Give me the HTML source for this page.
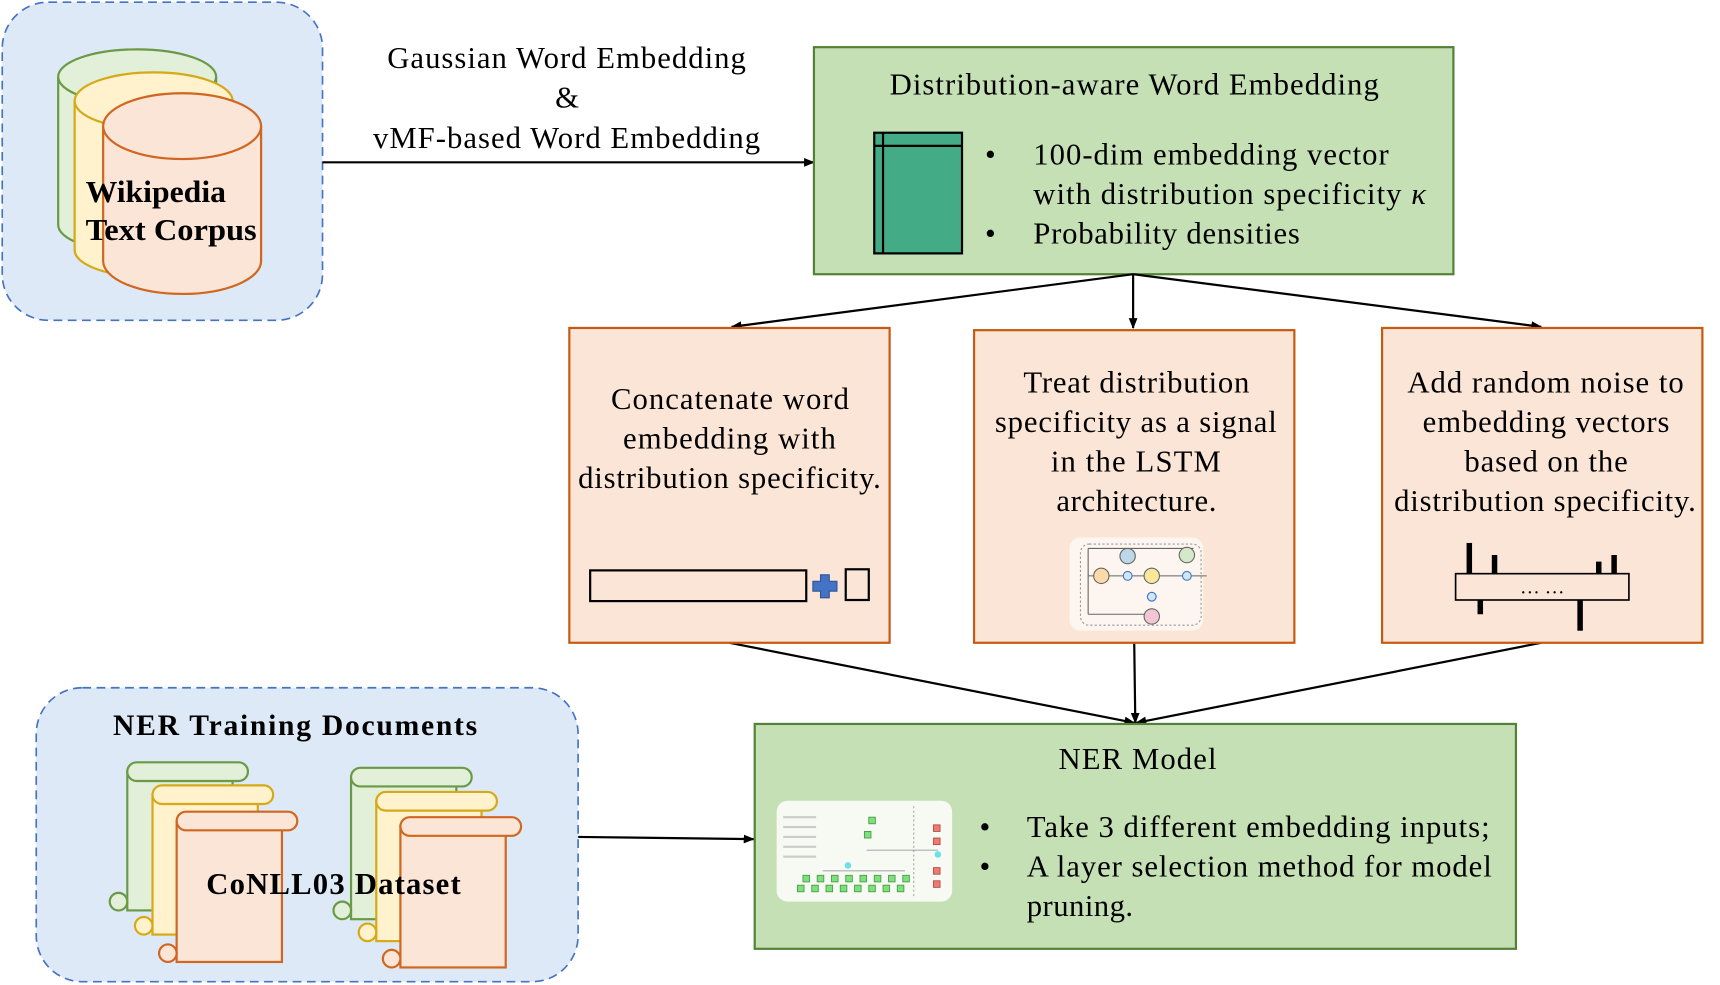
<!DOCTYPE html>
<html><head><meta charset="utf-8"><style>
html,body{margin:0;padding:0;background:#fff;}
svg{display:block;}
text{font-family:"Liberation Serif",serif;fill:#000;}
</style></head><body>
<svg width="1720" height="985" viewBox="0 0 1568 898" xmlns="http://www.w3.org/2000/svg">
<defs>
<marker id="ah" markerWidth="10" markerHeight="10" refX="9" refY="5" orient="auto" markerUnits="userSpaceOnUse">
<path d="M0,1 L10,5 L0,9 z" fill="#000"/></marker>
</defs>

<rect x="2" y="2" width="292" height="290" rx="42" fill="#dde9f6" stroke="#4472c4" stroke-width="1.5" stroke-dasharray="8,5"/>
<g stroke-width="2">
<path d="M53,70 V205 A72,25 0 0 0 197,205 V70" fill="#e2efd9" stroke="#6a9a45"/>
<ellipse cx="125" cy="70" rx="72" ry="25" fill="#e2efd9" stroke="#6a9a45"/>
<path d="M68,92 V228 A72,25 0 0 0 212,228 V92" fill="#fff2cc" stroke="#d6a919"/>
<ellipse cx="140" cy="92" rx="72" ry="26" fill="#fff2cc" stroke="#d6a919"/>
<path d="M94,115 V238 A72,30 0 0 0 238,238 V115" fill="#fbe5d6" stroke="#d0661f"/>
<ellipse cx="166" cy="115" rx="72" ry="30" fill="#fbe5d6" stroke="#d0661f"/>
</g>
<g font-size="28" font-weight="bold" lengthAdjust="spacingAndGlyphs">
<text x="78" y="184" textLength="128" lengthAdjust="spacingAndGlyphs">Wikipedia</text>
<text x="78" y="219" textLength="156" lengthAdjust="spacingAndGlyphs">Text Corpus</text>
</g>

<line x1="294" y1="148" x2="742" y2="148" stroke="#000" stroke-width="2" marker-end="url(#ah)"/>
<g font-size="28">
<text x="353" y="62" textLength="327" lengthAdjust="spacing">Gaussian Word Embedding</text>
<text x="517" y="98" text-anchor="middle">&amp;</text>
<text x="340" y="135" textLength="353" lengthAdjust="spacing">vMF-based Word Embedding</text>
</g>

<rect x="742" y="43" width="583" height="207" fill="#c5e0b4" stroke="#538135" stroke-width="2"/>
<text x="811" y="86" font-size="28" textLength="446" lengthAdjust="spacing">Distribution-aware Word Embedding</text>
<rect x="797" y="121" width="80" height="110" fill="#43ab85" stroke="#000" stroke-width="2"/>
<line x1="797" y1="133" x2="877" y2="133" stroke="#000" stroke-width="2"/>
<line x1="805" y1="121" x2="805" y2="231" stroke="#000" stroke-width="2"/>
<g font-size="28">
<text x="898" y="150">•</text><text x="942" y="150" textLength="324" lengthAdjust="spacing">100-dim embedding vector</text>
<text x="942" y="186" textLength="358" lengthAdjust="spacing">with distribution specificity <tspan font-style="italic">κ</tspan></text>
<text x="898" y="222">•</text><text x="942" y="222" textLength="243" lengthAdjust="spacing">Probability densities</text>
</g>

<g stroke="#000" stroke-width="2" marker-end="url(#ah)">
<line x1="1033" y1="250" x2="667" y2="298"/>
<line x1="1033" y1="250" x2="1033" y2="299"/>
<line x1="1033" y1="250" x2="1405" y2="298"/>
<line x1="665" y1="586" x2="1034" y2="659"/>
<line x1="1034" y1="586" x2="1035" y2="659"/>
<line x1="1405" y1="586" x2="1036" y2="659"/>
<line x1="527" y1="763" x2="687" y2="765"/>
</g>

<g fill="#fbe5d6" stroke="#c55a11" stroke-width="2">
<rect x="519" y="299" width="292" height="287"/>
<rect x="888" y="301" width="292" height="285"/>
<rect x="1260" y="299" width="292" height="287"/>
</g>
<g font-size="28">
<text x="557" y="373" textLength="217" lengthAdjust="spacing">Concatenate word</text>
<text x="568" y="409" textLength="194" lengthAdjust="spacing">embedding with</text>
<text x="527" y="445" textLength="276" lengthAdjust="spacing">distribution specificity.</text>
<text x="933" y="358" textLength="206" lengthAdjust="spacing">Treat distribution</text>
<text x="907" y="394" textLength="257" lengthAdjust="spacing">specificity as a signal</text>
<text x="958" y="430" textLength="155" lengthAdjust="spacing">in the LSTM</text>
<text x="963" y="466" textLength="146" lengthAdjust="spacing">architecture.</text>
<text x="1283" y="358" textLength="252" lengthAdjust="spacing">Add random noise to</text>
<text x="1297" y="394" textLength="225" lengthAdjust="spacing">embedding vectors</text>
<text x="1335" y="430" textLength="149" lengthAdjust="spacing">based on the</text>
<text x="1271" y="466" textLength="275" lengthAdjust="spacing">distribution specificity.</text>
</g>
<rect x="538" y="520" width="197" height="28" fill="#fbe5d6" stroke="#000" stroke-width="2"/>
<path d="M748,524 h8 v6 h7 v9 h-7 v6 h-8 v-6 h-7 v-9 h7 z" fill="#4472c4" stroke="#2f5597"/>
<rect x="771" y="519" width="21" height="28" fill="#fbe5d6" stroke="#000" stroke-width="2"/>
<g>
<rect x="975" y="490" width="122" height="85" rx="10" fill="#fdf5ef"/>
<rect x="985" y="496" width="110" height="74" rx="8" fill="none" stroke="#999" stroke-dasharray="2,2"/>
<line x1="992" y1="525" x2="1100" y2="525" stroke="#666"/>
<line x1="992" y1="500" x2="1088" y2="500" stroke="#666"/>
<line x1="992" y1="500" x2="992" y2="560" stroke="#666"/>
<line x1="992" y1="560" x2="1045" y2="560" stroke="#666"/>
<circle cx="1028" cy="507" r="7" fill="#bcd8e8" stroke="#666"/>
<circle cx="1082" cy="506" r="7" fill="#d4e9c8" stroke="#666"/>
<circle cx="1004" cy="525" r="7" fill="#fbd9a8" stroke="#666"/>
<circle cx="1050" cy="525" r="7" fill="#fbe79a" stroke="#666"/>
<circle cx="1050" cy="562" r="7" fill="#f3c6d6" stroke="#666"/>
<circle cx="1028" cy="525" r="4" fill="#cfe6f5" stroke="#4472c4"/>
<circle cx="1082" cy="525" r="4" fill="#cfe6f5" stroke="#4472c4"/>
<circle cx="1050" cy="544" r="4" fill="#cfe6f5" stroke="#4472c4"/>
</g>
<rect x="1327" y="523" width="158" height="24" fill="#fbe5d6" stroke="#000" stroke-width="1.5"/>
<text x="1406" y="541" font-size="18" text-anchor="middle">… …</text>
<g fill="#000">
<rect x="1337" y="495" width="5" height="28"/>
<rect x="1360" y="506" width="5" height="17"/>
<rect x="1455" y="512" width="5" height="11"/>
<rect x="1469" y="506" width="5" height="17"/>
<rect x="1347" y="547" width="5" height="13"/>
<rect x="1438" y="547" width="5" height="28"/>
</g>

<rect x="688" y="660" width="694" height="205" fill="#c5e0b4" stroke="#538135" stroke-width="2"/>
<text x="965" y="701" font-size="28" textLength="144" lengthAdjust="spacing">NER Model</text>
<g>
<rect x="708" y="730" width="160" height="92" rx="10" fill="#f6faf3"/>
<g fill="#7ee07a" stroke="#4a9a4a" stroke-width="0.8">
<rect x="732" y="798" width="6" height="6"/><rect x="745" y="798" width="6" height="6"/><rect x="758" y="798" width="6" height="6"/><rect x="771" y="798" width="6" height="6"/><rect x="784" y="798" width="6" height="6"/><rect x="797" y="798" width="6" height="6"/><rect x="810" y="798" width="6" height="6"/><rect x="823" y="798" width="6" height="6"/>
<rect x="727" y="807" width="6" height="6"/><rect x="740" y="807" width="6" height="6"/><rect x="753" y="807" width="6" height="6"/><rect x="766" y="807" width="6" height="6"/><rect x="779" y="807" width="6" height="6"/><rect x="792" y="807" width="6" height="6"/><rect x="805" y="807" width="6" height="6"/><rect x="818" y="807" width="6" height="6"/>
<rect x="792" y="745" width="6" height="6"/><rect x="788" y="758" width="6" height="6"/>
</g>
<g fill="#ee7b70" stroke="#b44" stroke-width="0.8">
<rect x="851" y="752" width="6" height="6"/><rect x="851" y="764" width="6" height="6"/><rect x="851" y="791" width="6" height="6"/><rect x="851" y="803" width="6" height="6"/>
</g>
<circle cx="855" cy="779" r="3" fill="#6de0e8"/>
<circle cx="773" cy="789" r="3" fill="#6de0e8"/>
<line x1="833" y1="735" x2="833" y2="818" stroke="#aaa" stroke-dasharray="2,2"/>
<line x1="750" y1="794" x2="825" y2="794" stroke="#888" stroke-width="0.7"/>
<line x1="790" y1="775" x2="855" y2="775" stroke="#888" stroke-width="0.7"/>
<g fill="#ccc"><rect x="714" y="744" width="30" height="2"/><rect x="714" y="753" width="30" height="2"/><rect x="714" y="762" width="30" height="2"/><rect x="714" y="771" width="30" height="2"/><rect x="714" y="780" width="30" height="2"/></g>
</g>
<g font-size="28">
<text x="893" y="763">•</text><text x="936" y="763" textLength="422" lengthAdjust="spacing">Take 3 different embedding inputs;</text>
<text x="893" y="799">•</text><text x="936" y="799" textLength="424" lengthAdjust="spacing">A layer selection method for model</text>
<text x="936" y="835" textLength="97" lengthAdjust="spacing">pruning.</text>
</g>

<rect x="33" y="627" width="494" height="268" rx="42" fill="#dde9f6" stroke="#4472c4" stroke-width="1.5" stroke-dasharray="8,5"/>
<text x="103" y="670" font-size="27" font-weight="bold" textLength="332" lengthAdjust="spacing">NER Training Documents</text>

<g stroke-width="2">
<g fill="#e2efd9" stroke="#6a9a45">
<rect x="116" y="703" width="96" height="127"/><circle cx="108" cy="822" r="8"/>
<rect x="116" y="695" width="110" height="17" rx="8.5"/>
</g>
<g fill="#fff2cc" stroke="#d6a919">
<rect x="139" y="724" width="96" height="128"/><circle cx="131" cy="844" r="8"/>
<rect x="139" y="716" width="110" height="17" rx="8.5"/>
</g>
<g fill="#fbe5d6" stroke="#d0661f">
<rect x="161" y="749" width="96" height="128"/><circle cx="153" cy="869" r="8"/>
<rect x="161" y="740" width="110" height="17" rx="8.5"/>
</g>
<g fill="#e2efd9" stroke="#6a9a45">
<rect x="320" y="708" width="96" height="130"/><circle cx="312" cy="830" r="8"/>
<rect x="320" y="700" width="110" height="17" rx="8.5"/>
</g>
<g fill="#fff2cc" stroke="#d6a919">
<rect x="343" y="730" width="96" height="128"/><circle cx="335" cy="850" r="8"/>
<rect x="343" y="722" width="110" height="17" rx="8.5"/>
</g>
<g fill="#fbe5d6" stroke="#d0661f">
<rect x="365" y="753" width="96" height="129"/><circle cx="357" cy="874" r="8"/>
<rect x="365" y="745" width="110" height="17" rx="8.5"/>
</g>
</g>
<text x="188" y="815" font-size="28" font-weight="bold" textLength="232" lengthAdjust="spacing">CoNLL03 Dataset</text>
</svg>
</body></html>
